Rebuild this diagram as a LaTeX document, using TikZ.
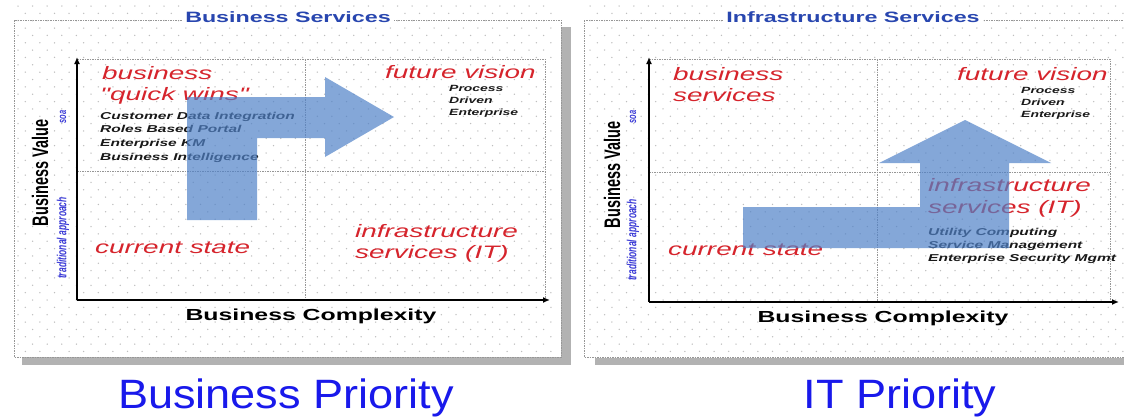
\documentclass[tikz,border=0pt]{standalone}
\usepackage{fontspec}
\usepackage{graphicx}
\setmainfont{Liberation Sans}
\newfontfamily\widesans[FakeStretch=1.55]{Liberation Sans}
\usetikzlibrary{arrows.meta}

\definecolor{quadred}{RGB}{214,36,44}
\definecolor{titleblue}{RGB}{40,70,175}
\definecolor{capblue}{RGB}{25,25,235}
\definecolor{axisblue}{RGB}{60,60,215}
\definecolor{arrowblue}{RGB}{80,130,200}
\definecolor{dotgray}{RGB}{190,190,190}
\definecolor{framegray}{RGB}{150,150,150}
\definecolor{shadowgray}{RGB}{178,178,178}

\tikzset{
  quadlabel/.style={text=quadred, font=\widesans\itshape\fontsize{18}{21}\selectfont,
    anchor=mid west, inner sep=0pt},
  itemlabel/.style={text=black!90, font=\widesans\bfseries\itshape\fontsize{10}{12}\selectfont,
    anchor=mid west, inner sep=0pt},
  visionlabel/.style={text=black!90, font=\widesans\bfseries\itshape\fontsize{9}{11}\selectfont,
    anchor=mid west, inner sep=0pt},
  paneltitle/.style={text=titleblue, font=\widesans\bfseries\fontsize{15}{17}\selectfont,
    fill=white, inner sep=3pt},
  xlabel/.style={text=black, font=\widesans\bfseries\fontsize{16}{18}\selectfont, anchor=mid, inner sep=0pt},
  ylabel/.style={rotate=90, inner sep=0pt},
  scalelabel/.style={rotate=90, inner sep=0pt, text=axisblue},
  caption/.style={text=capblue, font=\fontsize{41}{45}\selectfont, anchor=base, inner sep=0pt},
  frameline/.style={draw=framegray, line width=0.8pt, dash pattern=on 1.5pt off 1pt},
  plotline/.style={draw=framegray, line width=0.6pt, dash pattern=on 1.5pt off 1pt},
  axisline/.style={line width=2.2pt, -{Latex[length=7pt,width=6pt]}},
  shadow/.style={fill=shadowgray},
  movearrow/.style={fill=arrowblue, fill opacity=0.7},
}

\begin{document}
\begin{tikzpicture}[x=1pt, y=-1pt]
\clip (0,0) rectangle (1124,416);
\fill[white] (0,0) rectangle (1124,416);

% ---------- dotted backgrounds ----------
\fill[dotgray] \foreach \j in {0,...,47} { \foreach \i in {0,...,36}
  { ({18+\i*14.6+mod(\j,2)*7.3},{6+\j*7.35}) circle (0.75) } };
\fill[dotgray] \foreach \j in {0,...,47} { \foreach \i in {0,...,36}
  { ({590+\i*14.6+mod(\j,2)*7.3},{6+\j*7.35}) circle (0.75) } };

% ---------- panel shadows and frames ----------
\fill[shadow] (561,27) rectangle (571,365);
\fill[shadow] (22,357) rectangle (571,365);
\fill[shadow] (595,358) rectangle (1130,365);
\draw[frameline] (14,20) rectangle (561,357);
\draw[frameline] (584,20) rectangle (1130,357);

\node[paneltitle] (ltitle) at (288,17) {Business Services};
\node[paneltitle] (rtitle) at (853,17) {Infrastructure Services};

% ================= left panel: Business Services =================
\coordinate (lo) at (77,300);
\coordinate (lytop) at (77,57);
\coordinate (lxend) at (550,300);
\coordinate (ltl) at (77,59);
\coordinate (ltr) at (545,59);
\coordinate (lbr) at (545,300);
\coordinate (lvtop) at (305,59);
\coordinate (lvbot) at (305,300);
\coordinate (lhl) at (77,171);
\coordinate (lhr) at (545,171);
\draw[plotline] (ltl) -- (ltr) -- (lbr);
\draw[plotline] (lvtop) -- (lvbot);
\draw[plotline] (lhl) -- (lhr);

\node[quadlabel] (lbiz1) at (102,77) {business};
\node[quadlabel] (lbiz2) at (100,98) {"quick wins"};
\node[itemlabel] (li1) at (100,117) {Customer Data Integration};
\node[itemlabel] (li2) at (100,130) {Roles Based Portal};
\node[itemlabel] (li3) at (100,144) {Enterprise KM};
\node[itemlabel] (li4) at (100,158) {Business Intelligence};
\node[quadlabel] (lfv) at (385,76) {future vision};
\node[visionlabel] (lv1) at (449,89) {Process};
\node[visionlabel] (lv2) at (449,101) {Driven};
\node[visionlabel] (lv3) at (449,113) {Enterprise};
\node[quadlabel] (lcs) at (95,251) {current state};
\node[quadlabel] (lis1) at (355,235) {infrastructure};
\node[quadlabel] (lis2) at (355,256) {services (IT)};

\fill[movearrow] (187,220) -- (187,97) -- (325,97) -- (325,77) -- (394,117)
  -- (325,157) -- (325,138) -- (257,138) -- (257,220) -- cycle;

\draw[axisline] (lo) -- (lytop);
\draw[axisline] (lo) -- (lxend);

\node[ylabel] (lyl) at (40,173)
  {\scalebox{1}[1.55]{\bfseries\fontsize{14.5}{16}\selectfont Business Value}};
\node[scalelabel] (lsoa) at (63,117)
  {\scalebox{1}[1.55]{\bfseries\itshape\fontsize{7.5}{8}\selectfont soa}};
\node[scalelabel] (ltrad) at (63,238)
  {\scalebox{1}[1.55]{\bfseries\itshape\fontsize{8.5}{9}\selectfont traditional approach}};
\node[xlabel] (lxl) at (311,318) {Business Complexity};

% ================= right panel: Infrastructure Services =================
\coordinate (ro) at (649,302);
\coordinate (rytop) at (649,57);
\coordinate (rxend) at (1119,302);
\coordinate (rtl) at (649,59);
\coordinate (rtr) at (1110,59);
\coordinate (rbr) at (1110,302);
\coordinate (rvtop) at (877,59);
\coordinate (rvbot) at (877,302);
\coordinate (rhl) at (649,172);
\coordinate (rhr) at (1110,172);
\draw[plotline] (rtl) -- (rtr) -- (rbr);
\draw[plotline] (rvtop) -- (rvbot);
\draw[plotline] (rhl) -- (rhr);

\node[quadlabel] (rbiz1) at (673,78) {business};
\node[quadlabel] (rbiz2) at (673,99) {services};
\node[quadlabel] (rfv) at (957,78) {future vision};
\node[visionlabel] (rv1) at (1021,91) {Process};
\node[visionlabel] (rv2) at (1021,103) {Driven};
\node[visionlabel] (rv3) at (1021,115) {Enterprise};
\node[quadlabel] (rcs) at (668,253) {current state};
\node[quadlabel] (ris1) at (928,189) {infrastructure};
\node[quadlabel] (ris2) at (928,211) {services (IT)};
\node[itemlabel] (ri1) at (928,233) {Utility Computing};
\node[itemlabel] (ri2) at (928,246) {Service Management};
\node[itemlabel] (ri3) at (928,259) {Enterprise Security Mgmt};

\fill[movearrow] (743,248) -- (743,207) -- (920,207) -- (920,163) -- (879,163)
  -- (965,120) -- (1051,163) -- (1009,163) -- (1009,248) -- cycle;

\draw[axisline] (ro) -- (rytop);
\draw[axisline] (ro) -- (rxend);

\node[ylabel] (ryl) at (612,175)
  {\scalebox{1}[1.55]{\bfseries\fontsize{14.5}{16}\selectfont Business Value}};
\node[scalelabel] (rsoa) at (633,117)
  {\scalebox{1}[1.55]{\bfseries\itshape\fontsize{7.5}{8}\selectfont soa}};
\node[scalelabel] (rtrad) at (633,240)
  {\scalebox{1}[1.55]{\bfseries\itshape\fontsize{8.5}{9}\selectfont traditional approach}};
\node[xlabel] (rxl) at (883,320) {Business Complexity};

% ---------- captions ----------
\node[caption] (lcap) at (286,408) {\scalebox{1.1}[1]{Business Priority}};
\node[caption] (rcap) at (900,408) {\scalebox{1.1}[1]{IT Priority}};
\end{tikzpicture}
\end{document}
